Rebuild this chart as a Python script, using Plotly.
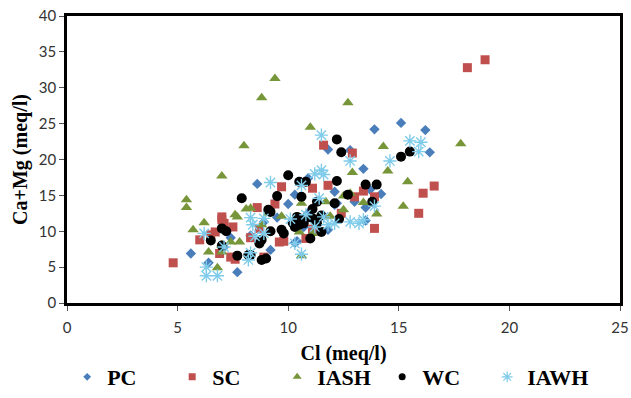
import plotly.graph_objects as go

# ---- data (Cl, Ca+Mg) in meq/l ----
pc_x = [5.6, 6.4, 7.1, 7.4, 7.7, 8.6, 8.9, 9.2, 10.0, 10.3, 10.3, 10.4, 10.7, 10.9, 11.8, 11.8, 12.1, 12.1, 12.2, 12.8,
        13.0, 13.4, 13.5, 13.5, 13.7, 13.9, 14.2, 15.1, 16.2, 16.4, 8.3, 9.5, 10.9, 11.3]
pc_y = [6.9, 5.6, 7.8, 9.1, 4.3, 16.6, 11.3, 7.4, 13.8, 15.1, 8.4, 8.6, 10.6, 17.4, 21.4, 10.2, 15.5, 13.7, 13.9, 21.3,
        14.1, 18.7, 11.5, 13.3, 15.8, 24.2, 15.2, 25.1, 24.1, 21.0, 9.4, 11.9, 12.5, 11.6]

sc_x = [4.8, 6.0, 6.5, 6.7, 6.9, 7.0, 7.0, 7.1, 7.4, 7.6, 7.5, 8.3, 8.6, 8.7, 8.9, 9.4, 9.6, 9.8, 9.7, 10.8,
        11.1, 11.1, 11.6, 11.8, 12.4, 12.9, 13.0, 13.4, 13.9, 13.9, 15.9, 16.1, 16.6, 18.1, 18.9]
sc_y = [5.6, 8.8, 9.5, 9.9, 6.9, 11.6, 12.0, 11.1, 6.4, 6.1, 10.6, 9.1, 13.3, 10.4, 6.4, 13.8, 8.5, 8.6, 16.2, 9.0,
        10.3, 16.0, 22.0, 16.4, 12.5, 20.9, 14.8, 15.6, 14.8, 10.4, 12.5, 15.3, 16.3, 32.8, 33.9]

iash_x = [5.4, 5.4, 5.7, 6.2, 6.4, 6.8, 7.0, 7.0, 7.0, 7.4, 7.6, 7.7, 7.8, 8.0, 8.1, 8.3, 8.8, 8.8, 9.1, 9.4,
          9.7, 10.5, 10.6, 10.6, 11.0, 11.1, 11.7, 11.9, 12.5, 12.5, 12.7, 12.8, 12.9, 13.4, 14.0, 14.3, 14.5,
          15.2, 15.4, 17.8]
iash_y = [14.4, 13.3, 10.2, 11.2, 7.1, 4.9, 8.1, 7.1, 17.7, 8.5, 12.3, 12.0, 8.5, 21.9, 13.1, 13.2, 10.9, 28.6, 12.5, 31.3,
          12.1, 9.9, 13.9, 6.6, 24.5, 9.7, 14.1, 12.1, 14.9, 13.0, 27.9, 15.3, 18.2, 14.0, 12.4, 21.8, 18.4,
          13.5, 16.9, 22.2]

wc_x = [6.5, 7.0, 7.2, 7.0, 7.7, 7.9, 8.2, 8.3, 8.7, 8.8, 8.8, 9.0, 9.1, 9.2, 9.2, 9.5, 9.7, 9.8, 10.0, 10.2,
        10.3, 10.4, 10.5, 10.5, 10.6, 10.7, 10.8, 10.8, 11.0, 11.1, 11.1, 11.3, 11.3, 11.5, 11.5, 12.1, 12.2,
        12.2, 12.3, 12.4, 12.7, 13.5, 13.8, 14.0, 15.1, 15.5]
wc_y = [8.7, 10.4, 10.0, 8.0, 6.6, 14.6, 6.7, 6.7, 8.3, 8.8, 6.0, 6.2, 13.0, 10.0, 12.7, 14.9, 10.2, 9.7, 17.8, 11.2,
        10.6, 12.0, 16.9, 10.9, 14.8, 11.1, 16.9, 11.8, 9.0, 11.8, 13.1, 14.1, 11.1, 12.2, 9.9, 13.9, 22.8,
        17.0, 11.7, 21.0, 15.1, 16.5, 14.1, 16.5, 20.4, 21.1]

iawh_x = [6.2, 6.3, 6.3, 6.8, 7.1, 8.2, 8.3, 8.3, 8.4, 8.5, 8.9, 8.9, 9.2, 10.1, 10.3, 10.6, 10.6, 10.8, 11.2, 11.2,
          11.4, 11.5, 11.5, 11.6, 11.6, 11.8, 12.1, 12.8, 12.8, 13.2, 13.4, 13.9, 14.6, 15.5, 15.9, 16.0]
iawh_y = [9.7, 5.0, 3.8, 3.8, 7.8, 6.0, 11.9, 7.0, 10.9, 9.3, 11.8, 9.7, 16.8, 11.7, 8.3, 16.4, 6.8, 12.3, 18.0, 10.6,
          14.6, 23.4, 18.5, 17.9, 12.0, 10.9, 11.1, 19.8, 11.3, 11.1, 11.6, 13.5, 19.8, 22.6, 21.1, 22.4]

names = ["PC", "SC", "IASH", "WC", "IAWH"]
xs = [pc_x, sc_x, iash_x, wc_x, iawh_x]
ys = [pc_y, sc_y, iash_y, wc_y, iawh_y]
colors = ["#4a7ebb", "#c0504d", "#77963a", "#000000", "#7fcbea"]
symbols = ["diamond", "square", "triangle-up", "circle", "asterisk-open"]
sizes = [8, 9, 10, 10, 11]
leg_sizes = [6, 7, 8, 7, 9]

fig = go.Figure()
for n, x, y, c, s, sz in zip(names, xs, ys, colors, symbols, sizes):
    marker = dict(color=c, symbol=s, size=sz)
    if s == "asterisk-open":
        marker["line"] = dict(color=c, width=1.4)
    fig.add_trace(go.Scatter(x=x, y=y, mode="markers", name=n, marker=marker, showlegend=False))

for n, c, s, sz in zip(names, colors, symbols, leg_sizes):
    marker = dict(color=c, symbol=s, size=sz)
    if s == "asterisk-open":
        marker["line"] = dict(color=c, width=1.2)
    fig.add_trace(go.Scatter(x=[None], y=[None], mode="markers", name=n, marker=marker, showlegend=True))

axis_common = dict(showgrid=False, zeroline=False, showline=True, linecolor="black", linewidth=2.5,
                   mirror=True, ticks="outside", ticklen=5, tickcolor="#555", tickwidth=1,
                   automargin=False, ticklabeloverflow="allow",
                   tickfont=dict(family="Lato", size=15, color="#333"))

fig.update_layout(
    width=631, height=398,
    margin=dict(l=67, r=11, t=16, b=95, autoexpand=False),
    paper_bgcolor="white", plot_bgcolor="white",
    xaxis=dict(range=[0, 25], dtick=5, ticklabelstandoff=4,
               title=dict(text="Cl (meq/l)", font=dict(family="Liberation Serif", size=20, color="black"),
                          standoff=12),
               **axis_common),
    yaxis=dict(range=[0, 40], dtick=5,
               title=dict(text="Ca+Mg (meq/l)", font=dict(family="Liberation Serif", size=20, color="black"),
                          standoff=6),
               **axis_common),
    legend=dict(orientation="h", x=0.475, xanchor="center", y=-0.258, yanchor="middle",
                font=dict(family="Liberation Serif", size=22, color="black"),
                itemwidth=30, entrywidth=60, tracegroupgap=0),
    font=dict(family="Liberation Serif"),
)
fig.update_xaxes(title_font_weight="bold")
fig.update_yaxes(title_font_weight="bold")
fig.update_layout(legend_font_weight="bold")

fig.write_html("out.html")
